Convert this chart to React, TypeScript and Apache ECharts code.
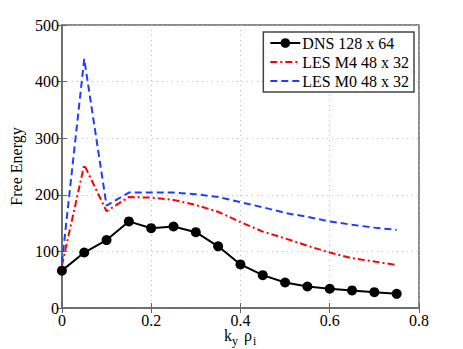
import React, { useEffect, useRef } from "react";
import * as echarts from "echarts";

const kyRho = [0, 0.05, 0.1, 0.15, 0.2, 0.25, 0.3, 0.35, 0.4, 0.45, 0.5, 0.55, 0.6, 0.65, 0.7, 0.75];
const dns = [66, 98, 120, 153, 141, 144, 134, 109, 77, 58, 45, 38, 34, 31, 28, 25];
const lesM4 = [75, 253, 171, 196, 195, 191, 182, 170, 152, 135, 123, 110, 98, 88, 82, 76];
const lesM0 = [80, 440, 181, 204, 204, 204, 201, 196, 187, 178, 168, 161, 153, 147, 142, 138];
const seriesNames = ["DNS 128 x 64", "LES M4 48 x 32", "LES M0 48 x 32"];
const yTitle = "Free Energy";

const FONT = "'Liberation Serif', 'Times New Roman', 'DejaVu Serif', serif";

export default function App() {
  const ref = useRef<HTMLDivElement>(null);
  useEffect(() => {
    if (!ref.current) return;
    const chart = echarts.init(ref.current, undefined, { renderer: "svg" });
    const pairs = (ys: number[]) => ys.map((y, i) => [kyRho[i], y]);
    const axisColor = "#666";
    const hiddenAxisCommon = {
      axisLabel: { show: false },
      splitLine: { show: false },
      axisLine: { show: false },
      axisTick: { show: true, inside: true, length: 5, lineStyle: { color: axisColor } },
    };
    chart.setOption({
      animation: false,
      backgroundColor: "#fff",
      textStyle: { fontFamily: FONT },
      grid: {
        left: 60,
        right: 44,
        top: 25,
        bottom: 41,
        show: true,
        borderColor: axisColor,
        borderWidth: 1.5,
        backgroundColor: "transparent",
      },
      legend: {
        orient: "vertical",
        right: 49,
        top: 32,
        itemWidth: 30,
        itemHeight: 12,
        itemGap: 3,
        padding: [3, 5, 3, 6],
        borderColor: "#444",
        borderWidth: 1.5,
        backgroundColor: "#fff",
        textStyle: { fontFamily: FONT, fontSize: 16, color: "#000", padding: [0, 0, 0, -3] },
        data: [
          { name: seriesNames[0] },
          { name: seriesNames[1], itemStyle: { opacity: 0 } },
          { name: seriesNames[2], itemStyle: { opacity: 0 } },
        ],
      },
      xAxis: [
        {
          type: "value",
          min: 0,
          max: 0.8,
          interval: 0.2,
          axisLine: { show: true, lineStyle: { color: axisColor, width: 1.5 } },
          axisTick: { show: true, inside: true, length: 5, lineStyle: { color: axisColor } },
          axisLabel: {
            fontFamily: FONT,
            fontSize: 16,
            color: "#000",
            margin: 4,
            formatter: (v: number) => (v === 0 ? "0" : String(Math.round(v * 10) / 10)),
          },
          splitLine: { show: true, lineStyle: { color: "#bbb", type: [1, 4], width: 1 } },
        },
        { type: "value", position: "top", min: 0, max: 0.8, interval: 0.2, ...hiddenAxisCommon },
      ],
      yAxis: [
        {
          type: "value",
          min: 0,
          max: 500,
          interval: 100,
          name: yTitle,
          nameLocation: "middle",
          nameGap: 33,
          nameTextStyle: { fontFamily: FONT, fontSize: 16, color: "#000" },
          axisLine: { show: true, lineStyle: { color: axisColor, width: 1.5 } },
          axisTick: { show: true, inside: true, length: 5, lineStyle: { color: axisColor } },
          axisLabel: { fontFamily: FONT, fontSize: 16, color: "#000", margin: 3 },
          splitLine: { show: true, lineStyle: { color: "#bbb", type: [1, 4], width: 1 } },
        },
        { type: "value", position: "right", min: 0, max: 500, interval: 100, ...hiddenAxisCommon },
      ],
      graphic: [
        { type: "text", left: 224, top: 327, style: { text: "k", font: `16px ${FONT}`, fill: "#000" } },
        { type: "text", left: 232, top: 335, style: { text: "y", font: `12px ${FONT}`, fill: "#000" } },
        { type: "text", left: 244, top: 327, style: { text: "ρ", font: `16px ${FONT}`, fill: "#000" } },
        { type: "text", left: 253, top: 335, style: { text: "i", font: `12px ${FONT}`, fill: "#000" } },
      ],
      series: [
        {
          name: seriesNames[0],
          type: "line",
          data: pairs(dns),
          symbol: "circle",
          symbolSize: 10,
          color: "#000",
          itemStyle: { color: "#000" },
          lineStyle: { color: "#000", width: 2 },
          z: 3,
        },
        {
          name: seriesNames[1],
          type: "line",
          data: pairs(lesM4),
          symbol: "none",
          color: "#ff0000",
          lineStyle: { color: "#ff0000", width: 2, type: [7, 3, 2, 3] },
        },
        {
          name: seriesNames[2],
          type: "line",
          data: pairs(lesM0),
          symbol: "none",
          color: "#1f3dff",
          lineStyle: { color: "#1f3dff", width: 2, type: [7, 4] },
        },
      ],
    });
    return () => chart.dispose();
  }, []);
  return <div ref={ref} style={{ width: 463, height: 349, position: "absolute", left: 0, top: 0 }} />;
}
